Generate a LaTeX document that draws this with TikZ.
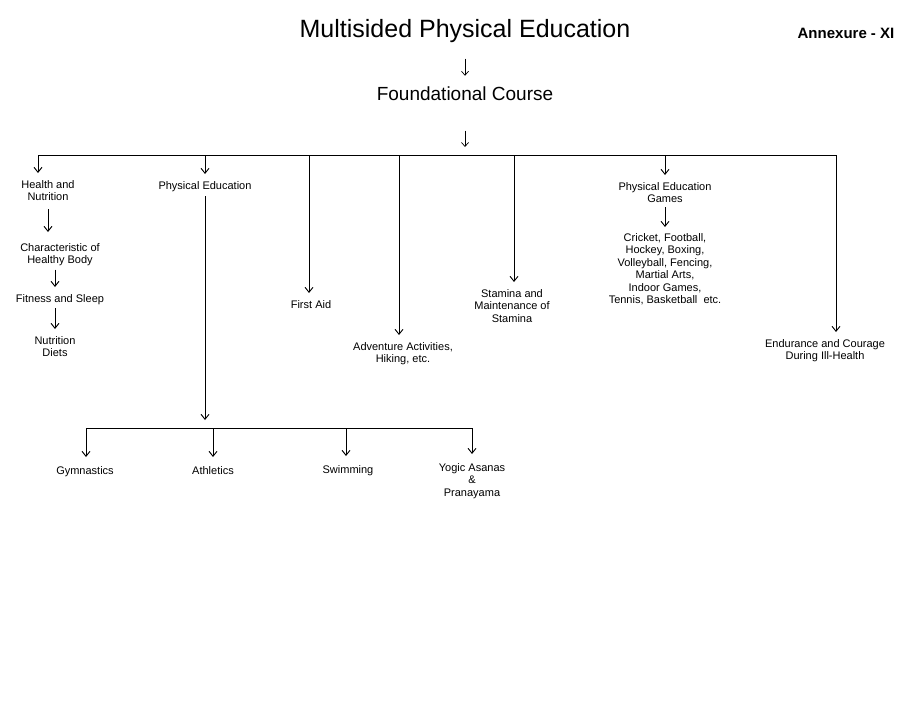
\documentclass[tikz,border=0pt]{standalone}
\usepackage{fontspec}
\setmainfont{Liberation Sans}
\usetikzlibrary{arrows.meta}
\begin{document}
\begin{tikzpicture}[x=1pt,y=-1pt,>={Straight Barb[length=5pt,width=8pt]},line width=0.9pt,
	every node/.style={inner sep=0pt,align=center,font=\fontsize{11}{12.4}\selectfont},
	arr/.style={->,shorten >=7pt},subarr/.style={->,shorten >=9pt}]
	\useasboundingbox (0,0) rectangle (914,728);
	\node[font=\fontsize{25}{28}\selectfont,anchor=base] (title) at (465,37) {Multisided Physical Education};
	\node[font=\fontsize{15}{18}\selectfont\bfseries,anchor=base] (annex) at (846,38) {Annexure - XI};
	\node[font=\fontsize{19}{22}\selectfont,anchor=base] (found) at (465,100) {Foundational Course};
	\coordinate (top) at (465,155);
	\coordinate (b1) at (38,155);
	\coordinate (b2) at (205,155);
	\coordinate (b3) at (309,155);
	\coordinate (b4) at (399,155);
	\coordinate (b5) at (514,155);
	\coordinate (b6) at (665,155);
	\coordinate (b7) at (836,155);
	\node[anchor=north] (hn) at (48,180) {Health and\\Nutrition};
	\node[anchor=north] (chb) at (60,243) {Characteristic of\\Healthy Body};
	\node[anchor=north] (fs) at (60,294) {Fitness and Sleep};
	\node[anchor=north] (nd) at (55,336) {Nutrition\\Diets};
	\node[anchor=north] (pe) at (205,181) {Physical Education};
	\node[anchor=north] (fa) at (311,300) {First Aid};
	\node[anchor=north] (adv) at (403,342) {Adventure Activities,\\Hiking, etc.};
	\node[anchor=north] (sta) at (512,289) {Stamina and\\Maintenance of\\Stamina};
	\node[anchor=north] (peg) at (665,182) {Physical Education\\Games};
	\node[anchor=north] (list) at (665,233) {Cricket, Football,\\Hockey, Boxing,\\Volleyball, Fencing,\\Martial Arts,\\Indoor Games,\\Tennis, Basketball\ \ etc.};
	\node[anchor=north] (end) at (825,339) {Endurance and Courage\\During Ill-Health};
	\coordinate (sb) at (205,428);
	\coordinate (s1) at (86,428);
	\coordinate (s2) at (213,428);
	\coordinate (s3) at (346,428);
	\coordinate (s4) at (472,428);
	\node[anchor=north] (gym) at (85,466) {Gymnastics};
	\node[anchor=north] (ath) at (213,466) {Athletics};
	\node[anchor=north] (swim) at (348,465) {Swimming};
	\node[anchor=north] (yoga) at (472,463) {Yogic Asanas\\\&\\Pranayama};
	\draw[-{Straight Barb[length=4pt,width=7pt]},line width=0.7pt,shorten <=16pt,shorten >=10pt] (title.south) -- (found.north);
	\draw[-{Straight Barb[length=4pt,width=7pt]},line width=0.7pt,shorten <=30pt,shorten >=8pt] (found.south) -- (top);
	\draw (b1) -- (b7);
	\draw[arr] (b1) -- (b1 |- hn.north);
	\draw[arr] (b2) -- (b2 |- pe.north);
	\draw[arr] (b3) -- (b3 |- fa.north);
	\draw[arr] (b4) -- (b4 |- adv.north);
	\draw[arr] (b5) -- (b5 |- sta.north);
	\draw[arr] (b6) -- (b6 |- peg.north);
	\draw[arr] (b7) -- (b7 |- end.north);
	\draw[arr,shorten <=8pt,shorten >=11pt] (hn.south) -- (hn.south |- chb.north);
	\draw[arr,shorten <=3pt] ([xshift=-5pt]chb.south) -- ([xshift=-5pt]chb.south |- fs.north);
	\draw[arr,shorten <=3pt] (nd.north |- fs.south) -- (nd.north);
	\draw[arr,shorten <=4pt,shorten >=6pt] (peg.south) -- (peg.south |- list.north);
	\draw[->,shorten <=4pt,shorten >=8pt] (pe.south) -- (sb);
	\draw (s1) -- (s4);
	\draw[subarr] (s1) -- (s1 |- gym.north);
	\draw[subarr] (s2) -- (s2 |- ath.north);
	\draw[subarr] (s3) -- (s3 |- swim.north);
	\draw[subarr] (s4) -- (s4 |- yoga.north);
\end{tikzpicture}
\end{document}
